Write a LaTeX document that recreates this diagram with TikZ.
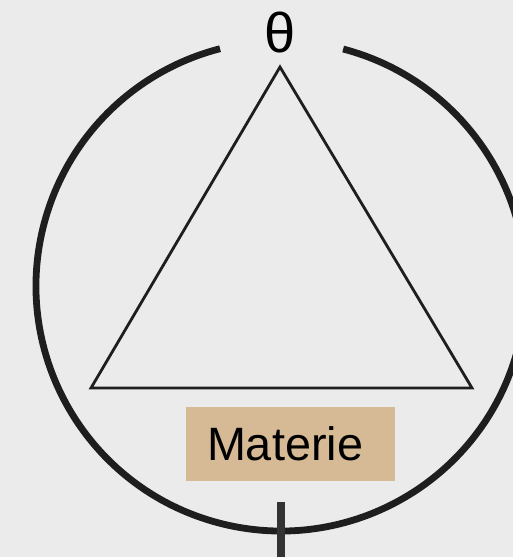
\documentclass[tikz,border=0pt]{standalone}
\usepackage{fontspec}
\setmainfont{Liberation Sans}
\usetikzlibrary{calc}
\definecolor{paper}{HTML}{EBEBEB}
\definecolor{ink}{HTML}{1E1E1E}
\definecolor{stem}{HTML}{333333}
\definecolor{tan}{HTML}{D6B995}
\begin{document}
\begin{tikzpicture}[x=1pt,y=1pt,
  ring/.style={draw=ink,line width=6.8pt},
  tri/.style={draw=ink,line width=2.8pt,line join=miter},
  stemline/.style={draw=stem,line width=8pt},
  tanbox/.style={fill=tan,minimum width=209pt,minimum height=74pt,inner xsep=21pt,text width=167pt,align=left,font=\fontsize{46.8}{50}\selectfont},
  symb/.style={font=\fontsize{56}{60}\selectfont,inner sep=0pt}]
\fill[paper] (0,0) rectangle (513,557);
\useasboundingbox (0,0) rectangle (513,557);
\coordinate (c) at (281,271);
\draw[ring] ($(c)+(75.3:245)$) arc[start angle=75.3,end angle=-255.6,radius=245];
\node[symb] (theta) at (280,524) {θ};
\coordinate (apex) at (280,490);
\coordinate (bl) at (91,169);
\coordinate (br) at (472,169);
\draw[tri] (apex) -- (bl) -- (br) -- cycle;
\node[tanbox] (materie) at (290.5,113) {Materie};
\coordinate (stemtop) at (281,55);
\coordinate (stembot) at (281,-5);
\draw[stemline] (stemtop) -- (stembot);
\end{tikzpicture}
\end{document}
